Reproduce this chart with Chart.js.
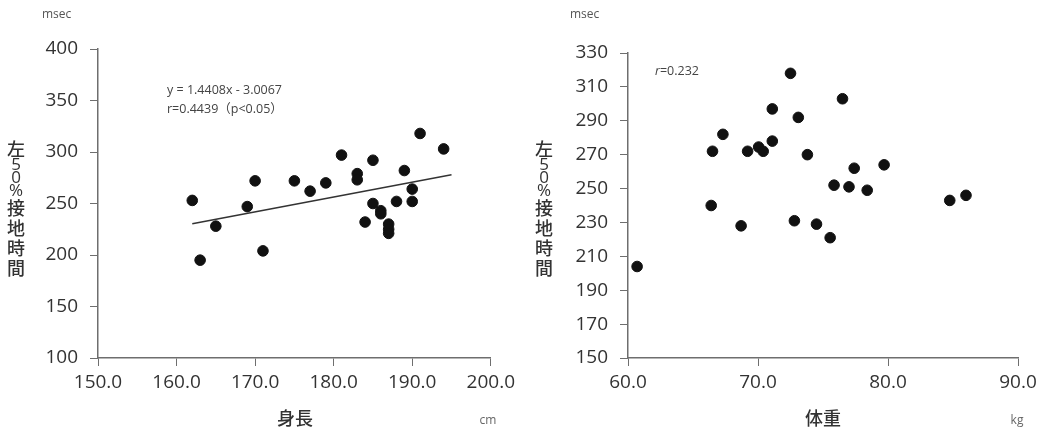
<!DOCTYPE html>
<html>
<head>
<meta charset="utf-8">
<script src="https://cdn.jsdelivr.net/npm/chart.js@4"></script>
<style>
  html, body { margin: 0; padding: 0; background: #fff; }
  #wrap { position: relative; width: 1046px; height: 432px; overflow: hidden; }
  canvas { position: absolute; top: 0; }
  #c-height { left: 0; }
  #c-weight { left: 520px; }
</style>
</head>
<body>
<div id="wrap">
  <canvas id="c-height" width="520" height="432"></canvas>
  <canvas id="c-weight" width="526" height="432"></canvas>
</div>
<script>
// ── Données : 身長 (cm) vs 左50%接地時間 (msec) ──
const heightCm = [162, 163, 165, 169, 170, 171, 175, 177, 179, 181, 183, 183, 184, 185, 185,
                  186, 186, 187, 187, 187, 188, 189, 190, 190, 191, 194];
const heightContact = [253, 195, 228, 247, 272, 204, 272, 262, 270, 297, 279, 273, 232, 292, 250,
                       243, 240, 230, 225, 221, 252, 282, 264, 252, 318, 303];

// droite de régression indiquée sur le graphique : y = 1.4408x - 3.0067
const fitSlope = 1.4408;
const fitIntercept = -3.0067;
const fitRange = [162, 195];

// ── Données : 体重 (kg) vs 左50%接地時間 (msec) ──
const weightKg = [60.7, 66.4, 66.5, 67.3, 68.7, 69.2, 70.05, 70.4, 71.1, 71.1, 72.5, 72.8, 73.1,
                  73.8, 74.5, 75.55, 75.85, 76.5, 77.0, 77.4, 78.4, 79.7, 84.75, 86.0];
const weightContact = [204, 240, 272, 282, 228, 272, 274.5, 272, 278, 297, 318, 231, 292,
                       270, 229, 221, 252, 303, 251, 262, 249, 264, 243, 246];

// bornes des axes : [min, max, pas]
const heightAxis = [150, 200, 10];
const heightYAxis = [100, 400, 50];
const weightAxis = [60, 90, 10];
const weightYAxis = [150, 330, 20];

const yTitleChars = ['左', '5', '0', '%', '接', '地', '時', '間'];

const TEXT = '#333';
const AXIS = '#6e6e6e';
const SANS = '"Open Sans", "Noto Sans CJK JP", sans-serif';
const CJK = '"Noto Sans CJK JP", "Open Sans", sans-serif';

// titre vertical empilé caractère par caractère
function drawStackedTitle(ctx, x, yTop) {
  ctx.save();
  ctx.fillStyle = '#333';
  ctx.textAlign = 'center';
  ctx.textBaseline = 'middle';
  let y = yTop;
  yTitleChars.forEach(ch => {
    const wide = ch.charCodeAt(0) > 255;
    const step = wide ? 20 : 13;
    ctx.font = wide ? '500 18px ' + CJK : '17px ' + SANS;
    ctx.fillText(ch, x, y + step / 2);
    y += step;
  });
  ctx.restore();
}

// plugin de textes libres (unités, titres, annotations)
const labelsPlugin = {
  id: 'freeLabels',
  afterDraw(chart) {
    const o = chart.options.plugins.freeLabels;
    if (!o) return;
    const ctx = chart.ctx;
    ctx.save();
    ctx.textBaseline = 'middle';

    // unité de l'axe Y
    ctx.fillStyle = '#555';
    ctx.font = '12px ' + SANS;
    ctx.textAlign = 'left';
    ctx.fillText('msec', o.msecX, 15);

    drawStackedTitle(ctx, o.titleX, 139);

    // titre de l'axe X + unité
    ctx.fillStyle = '#333';
    ctx.font = '500 18px ' + CJK;
    ctx.textAlign = 'center';
    ctx.fillText(o.xTitle, o.xTitleX, 418);
    ctx.fillStyle = '#666';
    ctx.font = '12px ' + SANS;
    ctx.fillText(o.unit, o.unitX, 421);

    // annotations (équation, coefficient)
    ctx.fillStyle = '#444';
    ctx.textAlign = 'left';
    (o.notes || []).forEach(n => {
      let x = n.x;
      n.parts.forEach(p => {
        ctx.font = (p.italic ? 'italic ' : '') + '12.5px ' + SANS;
        ctx.fillText(p.text, x, n.y);
        x += ctx.measureText(p.text).width;
      });
    });
    ctx.restore();
  }
};

function axisOptions(range, fmt, isX, fixedSize) {
  return {
    type: 'linear',
    min: range[0],
    max: range[1],
    border: { display: true, color: AXIS, width: 1.5 },
    grid: { drawOnChartArea: false, drawTicks: true, tickLength: 8, color: AXIS, lineWidth: 1 },
    ticks: {
      stepSize: range[2],
      color: TEXT,
      padding: isX ? 5 : 12,
      maxRotation: 0,
      autoSkip: false,
      font: { family: SANS, size: 19 },
      callback: v => fmt(v)
    },
    afterFit(scale) {
      if (isX) scale.height = fixedSize; else scale.width = fixedSize;
    }
  };
}

function makeScatter(id, pts, extra, cfg) {
  const datasets = [{
    type: 'scatter',
    data: pts,
    backgroundColor: '#111',
    borderColor: '#111',
    pointRadius: 5.3,
    pointHoverRadius: 5.3
  }];
  if (extra) datasets.push(extra);

  return new Chart(document.getElementById(id).getContext('2d'), {
    type: 'scatter',
    data: { datasets },
    options: {
      responsive: false,
      animation: false,
      devicePixelRatio: 1,
      layout: { padding: cfg.padding },
      plugins: {
        legend: { display: false },
        tooltip: { enabled: false },
        freeLabels: cfg.labels
      },
      scales: {
        x: axisOptions(cfg.xRange, v => v.toFixed(1), true, cfg.xHeight),
        y: axisOptions(cfg.yRange, v => String(v), false, cfg.yWidth)
      }
    },
    plugins: [labelsPlugin]
  });
}

// ── graphique gauche : 身長 ──
const heightPts = heightCm.map((x, i) => ({ x, y: heightContact[i] }));
const fitLine = {
  type: 'line',
  data: fitRange.map(x => ({ x, y: fitSlope * x + fitIntercept })),
  borderColor: '#333',
  borderWidth: 1.5,
  pointRadius: 0,
  fill: false,
  tension: 0
};
makeScatter('c-height', heightPts, fitLine, {
  padding: { top: 49, right: 28, left: 0, bottom: 0 },
  xRange: heightAxis, yRange: heightYAxis,
  xHeight: 74, yWidth: 98,
  labels: {
    msecX: 42, titleX: 16,
    xTitle: '身長', xTitleX: 295, unit: 'cm', unitX: 488,
    notes: [
      { x: 167, y: 90, parts: [{ text: 'y = 1.4408x - 3.0067' }] },
      { x: 167, y: 109, parts: [{ text: 'r=0.4439（p<0.05）' }] }
    ]
  }
});

// ── graphique droit : 体重 ──
const weightPts = weightKg.map((x, i) => ({ x, y: weightContact[i] }));
makeScatter('c-weight', weightPts, null, {
  padding: { top: 53, right: 28, left: 0, bottom: 0 },
  xRange: weightAxis, yRange: weightYAxis,
  xHeight: 74, yWidth: 108,
  labels: {
    msecX: 50, titleX: 24,
    xTitle: '体重', xTitleX: 303, unit: 'kg', unitX: 497,
    notes: [
      { x: 135, y: 71, parts: [{ text: 'r', italic: true }, { text: '=0.232' }] }
    ]
  }
});
</script>
</body>
</html>
